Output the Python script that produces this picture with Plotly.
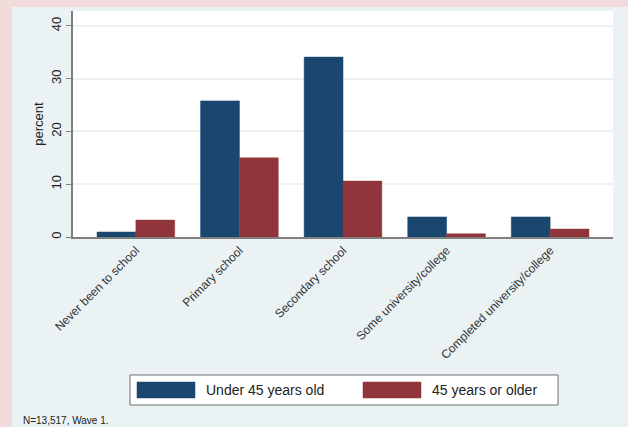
import plotly.graph_objects as go

categories = ["Never been to school", "Primary school", "Secondary school",
              "Some university/college", "Completed university/college"]
under45 = [0.95, 25.8, 34.1, 3.8, 3.8]
over45 = [3.2, 15.0, 10.6, 0.6, 1.5]
series_names = ["Under 45 years old", "45 years or older"]
y_ticks = [0, 10, 20, 30, 40]
note = "N=13,517, Wave 1."

NAVY = "#1a476f"
MAROON = "#90353b"
BLUISH = "#eaf2f3"
PINK = "#f1dbdb"
FONT = "Liberation Sans, Arial, sans-serif"

W, H = 628, 427
ML, MR, MT, MB = 73, 15, 11, 190
PW, PH = W - ML - MR, H - MT - MB


def px(x):
    return (x - ML) / PW


def py(y):
    return (H - MB - y) / PH


fig = go.Figure()
fig.add_trace(go.Bar(x=categories, y=under45, name=series_names[0],
                     marker=dict(color=NAVY, line=dict(color=NAVY, width=0.5))))
fig.add_trace(go.Bar(x=categories, y=over45, name=series_names[1],
                     marker=dict(color=MAROON, line=dict(color=MAROON, width=0.5))))

shapes = [
    # pink outer strips
    dict(type="rect", xref="paper", yref="paper", x0=px(0), x1=px(W), y0=py(0), y1=py(7),
         fillcolor=PINK, line_width=0, layer="below"),
    dict(type="rect", xref="paper", yref="paper", x0=px(0), x1=px(12), y0=py(0), y1=py(H),
         fillcolor=PINK, line_width=0, layer="below"),
    # legend box
    dict(type="rect", xref="paper", yref="paper", x0=px(130), x1=px(558), y0=py(375), y1=py(405),
         fillcolor="white", line=dict(color="#6e6e6e", width=1)),
    dict(type="rect", xref="paper", yref="paper", x0=px(137), x1=px(195), y0=py(382), y1=py(398),
         fillcolor=NAVY, line=dict(color=NAVY, width=0.5)),
    dict(type="rect", xref="paper", yref="paper", x0=px(363), x1=px(421), y0=py(382), y1=py(398),
         fillcolor=MAROON, line=dict(color=MAROON, width=0.5)),
]

annotations = [
    dict(text=series_names[0], xref="paper", yref="paper", x=px(204), y=py(390),
         xanchor="left", yanchor="middle", showarrow=False,
         font=dict(family=FONT, size=14, color="#222")),
    dict(text=series_names[1], xref="paper", yref="paper", x=px(430), y=py(390),
         xanchor="left", yanchor="middle", showarrow=False,
         font=dict(family=FONT, size=14, color="#222")),
    dict(text=note, xref="paper", yref="paper", x=px(21), y=py(420),
         xanchor="left", yanchor="middle", showarrow=False,
         font=dict(family=FONT, size=10, color="#222")),
]

fig.update_layout(
    width=W, height=H,
    margin=dict(l=ML, r=MR, t=MT, b=MB, pad=0),
    paper_bgcolor=BLUISH, plot_bgcolor="white",
    barmode="group", bargap=0.25, bargroupgap=0,
    showlegend=False,
    shapes=shapes, annotations=annotations,
    font=dict(family=FONT, color="#222"),
    xaxis=dict(range=[-0.607, 4.607], tickangle=-45, showgrid=False,
               showline=True, linecolor="#7f7f7f", linewidth=1.5,
               ticks="", tickfont=dict(size=12, color="#333")),
    yaxis=dict(range=[0, 42.84], tickvals=y_ticks, tickangle=-90,
               showgrid=True, gridcolor=BLUISH, gridwidth=1.5,
               zeroline=False, showline=True, linecolor="#7f7f7f", linewidth=1.5,
               ticks="outside", ticklen=5, tickcolor="#7f7f7f",
               tickfont=dict(size=13, color="#222"),
               title=dict(text="percent", font=dict(size=13, color="#222"), standoff=2)),
)

fig.write_html("out.html")
